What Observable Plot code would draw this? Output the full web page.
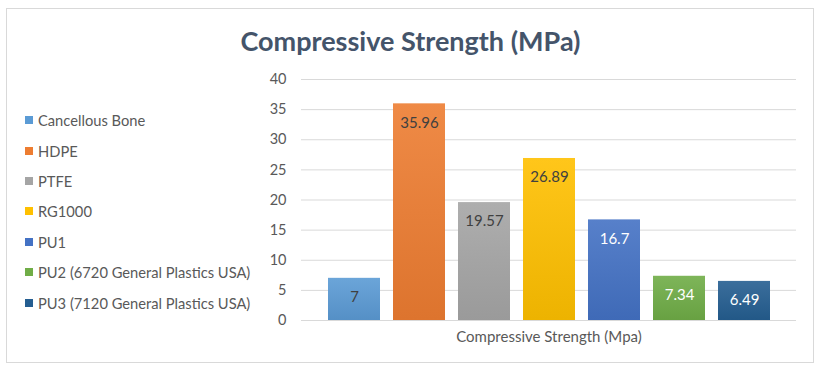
<!DOCTYPE html>
<html><head><meta charset="utf-8">
<script src="https://cdn.jsdelivr.net/npm/d3@7"></script>
<script src="https://cdn.jsdelivr.net/npm/@observablehq/plot@0.6"></script>
<style>
body{margin:0;background:#fff;font-family:Lato,"Open Sans",sans-serif;}
#wrap{position:relative;width:821px;height:373px;overflow:hidden;}
#frame{position:absolute;left:6px;top:8px;width:808px;height:355px;border:1px solid #d9d9d9;box-sizing:border-box;}
#title{position:absolute;left:0;width:821px;top:24px;text-align:center;font-weight:700;font-size:27px;line-height:34px;color:#44546a;}
#legend{position:absolute;left:25px;top:105px;}
.item{height:30.4px;display:flex;align-items:center;font-size:14.7px;color:#595959;white-space:nowrap;}
.sw{width:8px;height:8px;margin-right:5px;flex:none;}
#chart{position:absolute;left:0;top:0;}
</style></head>
<body>
<div id="wrap"><div id="frame"></div><div id="chart"></div><div id="title"></div><div id="legend"></div></div>
<script>
const titleText = "Compressive Strength (MPa)";
const xTitle = "Compressive Strength (Mpa)";
const materials = ["Cancellous Bone","HDPE","PTFE","RG1000","PU1","PU2 (6720 General Plastics USA)","PU3 (7120 General Plastics USA)"];
const values = [7, 35.96, 19.57, 26.89, 16.7, 7.34, 6.49];
const valueLabels = ["7","35.96","19.57","26.89","16.7","7.34","6.49"];
const colors = ["#5b9bd5","#ed7d31","#a5a5a5","#ffc000","#4472c4","#70ad47","#255e91"];
const labelColors = ["#404040","#404040","#404040","#404040","#ffffff","#ffffff","#ffffff"];
const yTicks = [0,5,10,15,20,25,30,35,40];

// gradients
const defs = d3.select("body").append("svg").attr("width",0).attr("height",0)
  .style("position","absolute").append("defs");
colors.forEach((c,i)=>{
  const g = defs.append("linearGradient").attr("id","grad"+i)
    .attr("x1",0).attr("y1",0).attr("x2",0).attr("y2",1);
  g.append("stop").attr("offset","0%").attr("stop-color", d3.interpolateRgb(c,"#ffffff")(0.1));
  g.append("stop").attr("offset","100%").attr("stop-color", d3.color(c).darker(0.2).formatHex());
});

const data = materials.map((m,i)=>({material:m, value:values[i], label:valueLabels[i], grad:`url(#grad${i})`, lc:labelColors[i]}));

const plot = Plot.plot({
  width:821, height:373,
  marginLeft:301, marginRight:25, marginTop:79, marginBottom:53,
  style:{background:"transparent", fontFamily:"Lato, sans-serif", fontSize:"14px", color:"#595959"},
  x:{domain:materials, paddingInner:0.2, paddingOuter:0.4, axis:null},
  y:{domain:[0,40]},
  color:{type:"identity"},
  marks:[
    Plot.gridY(yTicks,{stroke:"#d9d9d9", strokeOpacity:1}),
    Plot.axisY(yTicks,{tickSize:0, tickPadding:15, fontSize:14.5, fill:"#595959", label:null}),
    Plot.barY(data,{x:"material", y:"value", fill:"grad"}),
    Plot.text(data,{x:"material", y:"value", text:"label", dy:19, fill:"lc", fontSize:15}),
    Plot.text([xTitle],{text:d=>d, frameAnchor:"bottom", dy:21, fill:"#595959", fontSize:15})
  ]
});
document.getElementById("chart").appendChild(plot);
document.getElementById("title").textContent = titleText;
const leg = d3.select("#legend");
materials.forEach((m,i)=>{
  const it = leg.append("div").attr("class","item");
  it.append("div").attr("class","sw").style("background", colors[i]);
  it.append("span").text(m);
});
</script>
</body></html>
